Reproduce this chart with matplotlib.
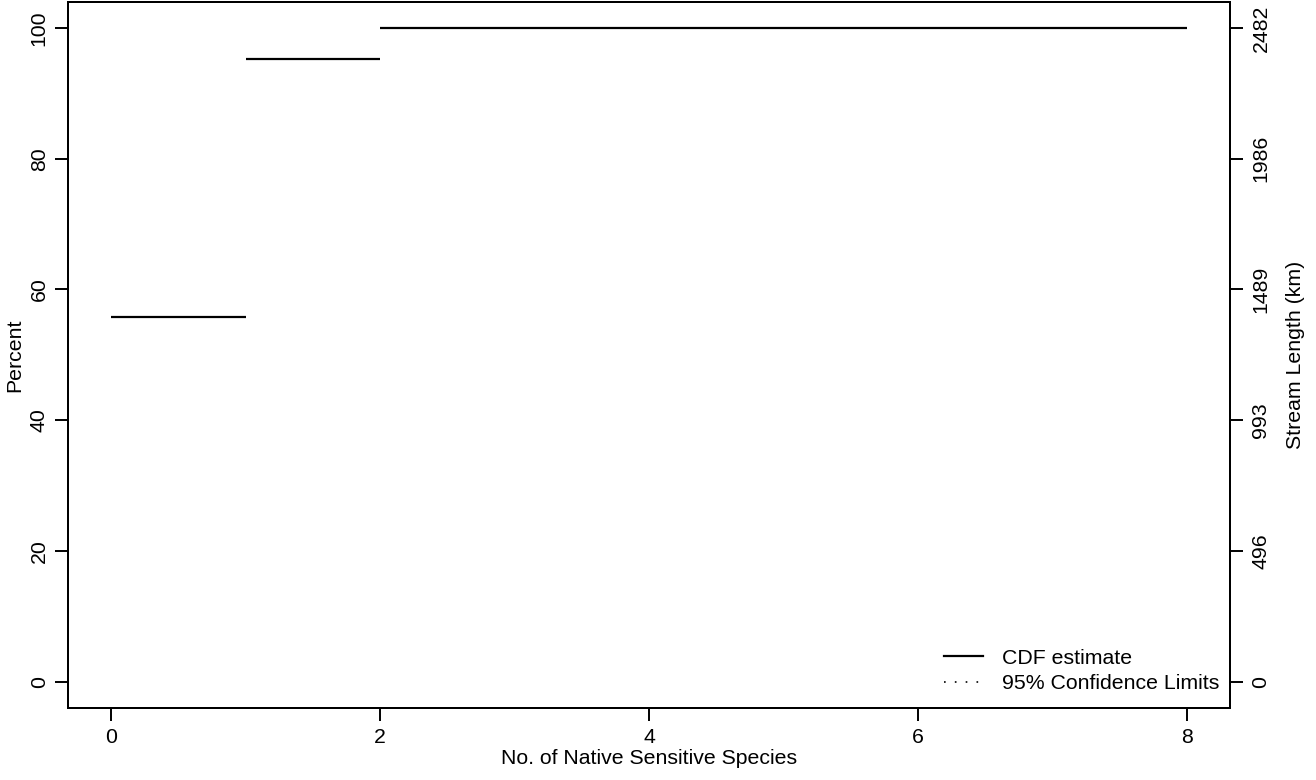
import matplotlib
matplotlib.use("Agg")
import matplotlib.pyplot as plt
from matplotlib.lines import Line2D

plt.rcParams['font.family'] = ['Liberation Sans', 'DejaVu Sans']

# Data
step_start = [0, 1, 2]
step_end = [1, 2, 8]
cdf_percent = [55.8, 95.2, 100.0]
total_length = 2482
x_ticks = [0, 2, 4, 6, 8]
y_ticks = [0, 20, 40, 60, 80, 100]
legend_labels = ["CDF estimate", "95% Confidence Limits"]

W, H = 1316, 780
fig = plt.figure(figsize=(W / 100, H / 100), dpi=100)
left, right, top, bottom = 68, 1230, 1.85, 707.8
ax = fig.add_axes([left / W, (H - bottom) / H, (right - left) / W, (bottom - top) / H])

fs = 15.3
ax.hlines(cdf_percent, step_start, step_end, colors='black', linewidth=1.6)

ax.set_xlim(-0.32, 8.32)
ax.set_ylim(-4, 104)
ax.set_xticks(x_ticks)
ax.set_xticklabels([str(t) for t in x_ticks], fontsize=fs)
ax.set_yticks(y_ticks)
ax.set_yticklabels([str(t) for t in y_ticks], fontsize=fs, rotation=90, va='center')
ax.tick_params(axis='both', length=9.4, width=1.4, direction='out')
ax.tick_params(axis='x', pad=5)
ax.tick_params(axis='y', pad=4.5)
for s in ax.spines.values():
    s.set_linewidth(1.4)

ax2 = ax.twinx()
ax2.set_ylim(-4, 104)
ax2.set_yticks(y_ticks)
ax2.set_yticklabels([str(int(round(total_length * t / 100))) for t in y_ticks],
                    fontsize=fs, rotation=90, va='center')
ax2.tick_params(axis='y', length=9.4, width=1.4, direction='out', pad=6)
for s in ax2.spines.values():
    s.set_linewidth(1.4)

mid_y = 1 - ((top + bottom) / 2) / H
fig.text(14.5 / W, mid_y, "Percent", fontsize=fs, rotation=90, ha='center', va='center')
fig.text(1295.5 / W, mid_y, "Stream Length (km)", fontsize=fs, rotation=90,
         ha='center', va='center')
fig.text(((left + right) / 2) / W, 1 - 764 / H, "No. of Native Sensitive Species",
         fontsize=fs, ha='center', va='baseline')

handles = [Line2D([], [], color='black', linewidth=1.6),
           Line2D([], [], color='black', linewidth=1.2, linestyle=(0, (1, 5.5)))]
ax.legend(handles, legend_labels, loc='lower right', frameon=False, fontsize=fs,
          handlelength=1.85, handletextpad=0.88, labelspacing=0.3,
          borderaxespad=0.49, borderpad=0.2,
          bbox_to_anchor=(1 + 4 / (right - left), 0))

fig.savefig("out.png", dpi=100)
